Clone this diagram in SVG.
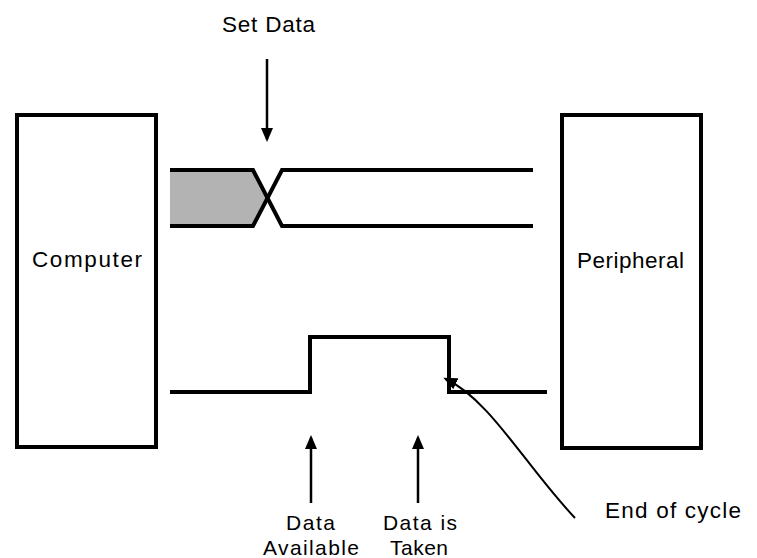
<svg xmlns="http://www.w3.org/2000/svg" width="757" height="558" viewBox="0 0 757 558">
  <style>
    .box { fill: #ffffff; stroke: #000000; stroke-width: 4; }
    .sig { fill: none; stroke: #000000; stroke-width: 4; stroke-linejoin: miter; }
    .arr { fill: none; stroke: #000000; stroke-width: 2.5; }
    .curve { fill: none; stroke: #000000; stroke-width: 2; }
    .lbl { font-family: "Liberation Sans", Arial, Helvetica, sans-serif; font-size: 22.5px; fill: #000000; }
    .lbl2 { font-family: "Liberation Sans", Arial, Helvetica, sans-serif; font-size: 21px; fill: #000000; }
  </style>
  <defs>
    <marker id="ah" markerUnits="userSpaceOnUse" markerWidth="14" markerHeight="12" refX="11" refY="6" orient="auto" viewBox="0 0 14 12">
      <path d="M0,0 L14,6 L0,12 z" fill="#000000"/>
    </marker>
  </defs>
  <rect width="757" height="558" fill="#ffffff"/>

  <g id="node-computer">
    <rect class="box" x="17" y="115" width="139" height="332"/>
    <text class="lbl" x="32" y="267" textLength="110" lengthAdjust="spacing">Computer</text>
  </g>

  <g id="node-peripheral">
    <rect class="box" x="562" y="115" width="139" height="333"/>
    <text class="lbl" x="577" y="268" textLength="107" lengthAdjust="spacing">Peripheral</text>
  </g>

  <g id="data-bus">
    <polygon points="170,170 253,170 267.5,198 253,226 170,226" fill="#b3b3b3"/>
    <path class="sig" d="M170,170 H253 L282,226 H533"/>
    <path class="sig" d="M170,226 H253 L282,170 H533"/>
  </g>

  <g id="strobe-signal">
    <path class="sig" d="M170,392 H310 V337 H449 V392 H547"/>
  </g>

  <g id="connectors">
    <line class="arr" x1="267" y1="59" x2="267" y2="139" marker-end="url(#ah)"/>
    <line class="arr" x1="311" y1="503" x2="311" y2="438" marker-end="url(#ah)"/>
    <line class="arr" x1="418" y1="503" x2="418" y2="438" marker-end="url(#ah)"/>
    <path class="curve" d="M575,518 C525,465 490,400 446,379" marker-end="url(#ah)"/>
  </g>

  <g id="labels">
    <text class="lbl" x="222" y="32" textLength="93" lengthAdjust="spacing">Set Data</text>
    <text class="lbl2" x="286" y="530" textLength="49" lengthAdjust="spacing">Data</text>
    <text class="lbl2" x="263" y="555" textLength="96" lengthAdjust="spacing">Available</text>
    <text class="lbl2" x="383" y="530" textLength="74" lengthAdjust="spacing">Data is</text>
    <text class="lbl2" x="390" y="555" textLength="58" lengthAdjust="spacing">Taken</text>
    <text class="lbl" x="605" y="518" textLength="136" lengthAdjust="spacing">End of cycle</text>
  </g>
</svg>
